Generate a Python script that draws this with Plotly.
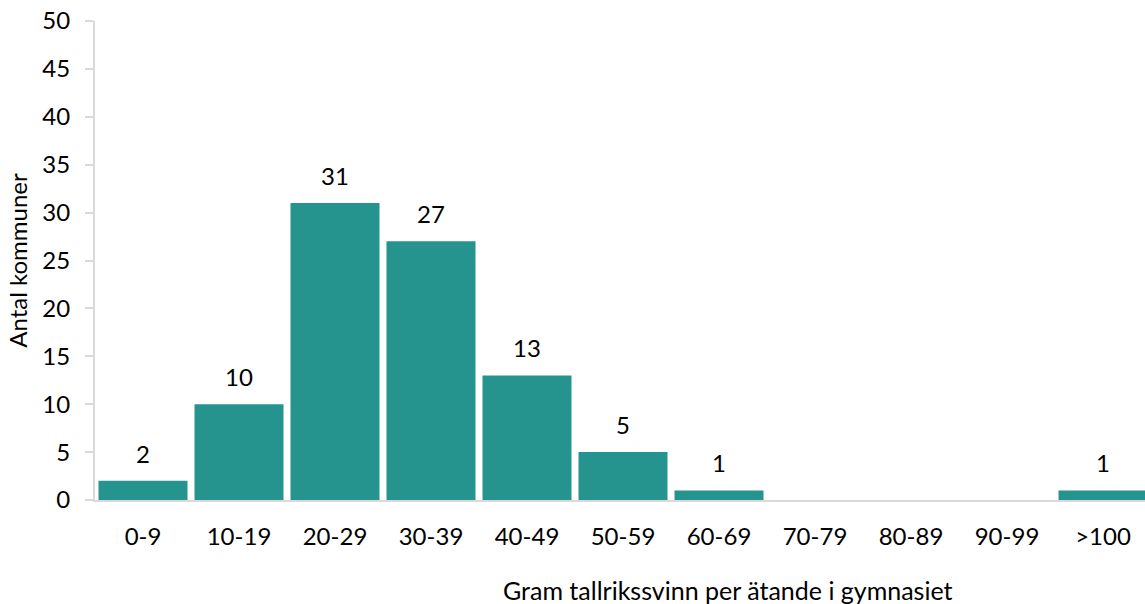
import plotly.graph_objects as go

# Fördelning av kommuner efter tallrikssvinn (gram per ätande) i gymnasiet
categories = ["0-9", "10-19", "20-29", "30-39", "40-49", "50-59",
              "60-69", "70-79", "80-89", "90-99", ">100"]
counts = [2, 10, 31, 27, 13, 5, 1, 0, 0, 0, 1]

y_ticks = list(range(0, 51, 5))

BAR = "#25948E"
AXIS = "#D9D9D9"
FONT = "Lato"
TXT = "#000000"
SIZE = 24

fig = go.Figure(
    go.Bar(
        x=categories,
        y=counts,
        marker=dict(color=BAR, line=dict(width=0)),
        hoverinfo="x+y",
    )
)

# Värdeetiketter ovanför staplarna (bara staplar med värde)
for cat, val in zip(categories, counts):
    if val > 0:
        fig.add_annotation(
            x=cat, y=val, xref="x", yref="y",
            text=str(val), showarrow=False,
            yanchor="bottom", yshift=11,
            font=dict(family=FONT, size=SIZE, color=TXT),
        )

# Axeltitel för x-axeln
fig.add_annotation(
    x=0.603, y=-0.187, xref="paper", yref="paper",
    text="Gram tallrikssvinn per ätande i gymnasiet",
    showarrow=False, xanchor="center", yanchor="middle",
    font=dict(family=FONT, size=25, color=TXT),
)

fig.update_layout(
    width=1145, height=604,
    margin=dict(l=95, r=0, t=21, b=104),
    paper_bgcolor="white", plot_bgcolor="white",
    bargap=0.073,
    showlegend=False,
    font=dict(family=FONT, size=SIZE, color=TXT),
    xaxis=dict(
        type="category",
        range=[-0.5, 10.4375],
        showline=True, linecolor=AXIS, linewidth=2,
        ticks="", showgrid=False, zeroline=False,
        ticklabelstandoff=14,
        tickfont=dict(family=FONT, size=SIZE, color=TXT),
    ),
    yaxis=dict(
        range=[0, 50],
        tickvals=y_ticks,
        showline=True, linecolor=AXIS, linewidth=2,
        ticks="outside", ticklen=8, tickcolor=AXIS, tickwidth=1.5,
        showgrid=False, zeroline=False,
        ticklabelstandoff=10,
        tickfont=dict(family=FONT, size=SIZE, color=TXT),
        title=dict(text="Antal kommuner", standoff=8,
                   font=dict(family=FONT, size=SIZE, color=TXT)),
    ),
)

fig.write_html("out.html")
